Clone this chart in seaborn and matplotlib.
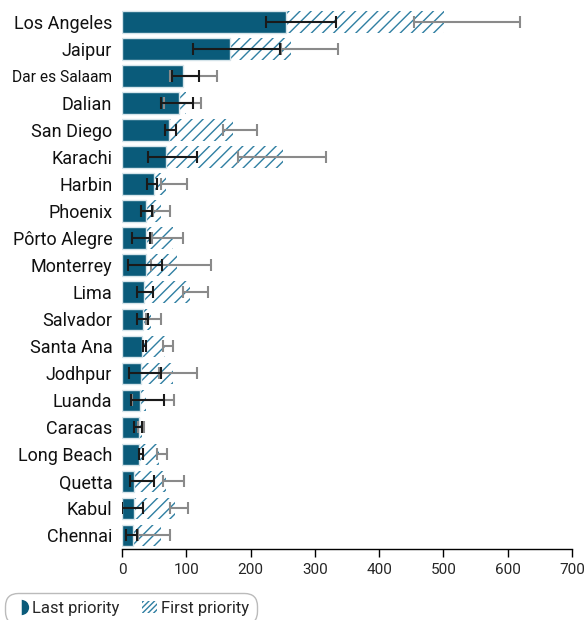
import numpy as np
import pandas as pd
import seaborn as sns
import matplotlib.pyplot as plt
from matplotlib.lines import Line2D
from matplotlib.patches import Patch

cities = ['Los Angeles', 'Jaipur', 'Dar es Salaam', 'Dalian', 'San Diego', 'Karachi',
          'Harbin', 'Phoenix', 'Pôrto Alegre', 'Monterrey', 'Lima', 'Salvador',
          'Santa Ana', 'Jodhpur', 'Luanda', 'Caracas', 'Long Beach', 'Quetta',
          'Kabul', 'Chennai']

# values
last_priority = [255, 168, 95, 89, 73, 68, 50, 37, 37, 37, 34, 32, 31, 30, 28, 27, 27, 19, 19, 17]
first_priority = [501, 263, 90, 100, 173, 251, 68, 60, 80, 85, 106, 45, 67, 80, 38, 31, 58, 69, 82, 61]

last_lo = [224, 111, 78, 61, 67, 40, 39, 29, 16, 9, 24, 23, 33, 11, 14, 18, 27, 12, 0, 6]
last_hi = [333, 245, 120, 111, 84, 116, 55, 46, 44, 62, 48, 40, 37, 60, 65, 31, 32, 49, 32, 23]
first_lo = [454, 248, 75, 66, 157, 180, 60, 48, 46, 45, 95, 38, 63, 57, 16, 25, 54, 63, 75, 25]
first_hi = [619, 336, 148, 123, 210, 317, 101, 75, 95, 138, 134, 61, 80, 117, 81, 34, 70, 96, 103, 74]

dark = '#0a5b7a'
hatch_col = '#2f7fa2'

df = pd.DataFrame({'city': cities, 'last': last_priority, 'first': first_priority})

sns.set_style('white')
plt.rcParams['font.family'] = ['Roboto', 'DejaVu Sans']
plt.rcParams['hatch.linewidth'] = 1.0

fig = plt.figure(figsize=(5.88, 6.2), dpi=100)
ax = fig.add_axes([0.2075, 0.1145, 0.7653, 0.8717])

sns.barplot(data=df, y='city', x='first', color='white', width=0.8,
            edgecolor=hatch_col, linewidth=0, hatch='///', ax=ax, zorder=1)
sns.barplot(data=df, y='city', x='last', color=dark, width=0.8, saturation=1,
            edgecolor='#d5e4ea', linewidth=1, ax=ax, zorder=2)

# confidence ranges are not centred on the bars, so draw them by their midpoint
ypos = np.arange(len(cities))
for lo, hi, col, z in [(first_lo, first_hi, '#8a8a8a', 3), (last_lo, last_hi, '#1a1a1a', 4)]:
    lo = np.array(lo)
    hi = np.array(hi)
    ax.errorbar((lo + hi) / 2, ypos, xerr=(hi - lo) / 2, fmt='none', ecolor=col,
                elinewidth=1.5, capsize=4, capthick=1.5, zorder=z)

ax.set_xlim(0, 700)
ax.set_ylim(len(cities) - 0.5, -0.5)
ax.set_xticks(range(0, 701, 100))
ax.set_xlabel('')
ax.set_ylabel('')
for s in ['top', 'right', 'left']:
    ax.spines[s].set_visible(False)
ax.spines['bottom'].set_color('black')
ax.spines['bottom'].set_linewidth(1)
ax.tick_params(axis='x', bottom=True, length=6, width=1, labelsize=11, pad=4, color='black')
ax.tick_params(axis='y', left=False, length=0, labelsize=13, pad=7)
for t in ax.get_yticklabels():
    t.set_color('#111111')
    if t.get_text() == 'Dar es Salaam':
        t.set_fontsize(11.2)

handles = [
    Line2D([], [], marker='o', fillstyle='right', color=dark, markerfacecoloralt='white',
           markeredgewidth=0, markersize=11, linestyle='none'),
    Patch(facecolor='white', edgecolor=hatch_col, hatch='//////', linewidth=0),
]
leg = fig.legend(handles, ['Last priority', 'First priority'], loc='lower left',
                 bbox_to_anchor=(0.0, -0.015), ncol=2, frameon=True, fancybox=True,
                 fontsize=12, handlelength=0.9, handletextpad=0.25, columnspacing=1.3,
                 borderpad=0.3, edgecolor='#aaaaaa')
leg.get_frame().set_boxstyle('round', pad=0.2, rounding_size=0.8)
leg.get_frame().set_linewidth(1)

fig.savefig('out.png', dpi=100)
